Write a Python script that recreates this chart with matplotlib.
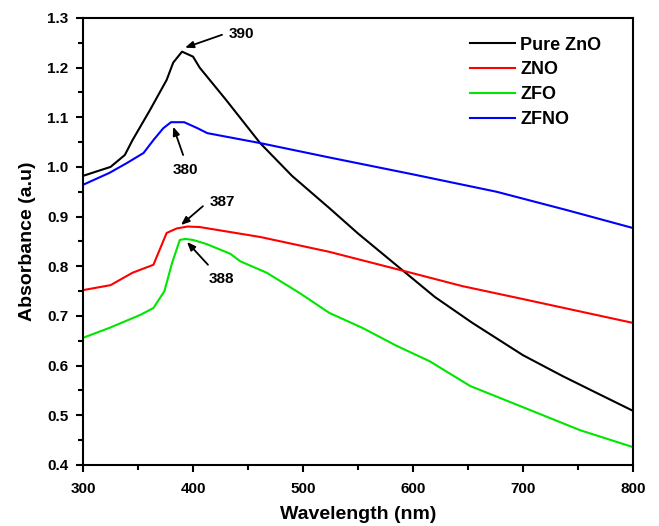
import matplotlib
matplotlib.use("Agg")
import matplotlib.pyplot as plt
from matplotlib.ticker import MultipleLocator

plt.rcParams['font.family'] = ['Liberation Sans', 'DejaVu Sans']
plt.rcParams['font.weight'] = 'bold'

# Pure ZnO (black)
zno_pure_x = [300, 325, 338, 345, 361, 376, 382, 390, 400, 406, 430, 461, 490, 524, 550, 591, 620, 654, 700, 736, 767, 800]
zno_pure_y = [0.982, 1.000, 1.024, 1.054, 1.115, 1.175, 1.210, 1.232, 1.222, 1.200, 1.135, 1.048, 0.982, 0.917, 0.866, 0.791, 0.738, 0.686, 0.621, 0.579, 0.545, 0.509]

# ZNO (red)
zno_x = [300, 325, 345, 364, 370, 376, 385, 395, 406, 461, 524, 591, 645, 700, 800]
zno_y = [0.752, 0.762, 0.787, 0.803, 0.835, 0.867, 0.876, 0.880, 0.879, 0.859, 0.829, 0.791, 0.760, 0.734, 0.686]

# ZFO (green)
zfo_x = [300, 324, 352, 364, 374, 381, 388, 393, 400, 412, 434, 443, 467, 497, 524, 554, 585, 615, 652, 706, 752, 800]
zfo_y = [0.656, 0.676, 0.702, 0.716, 0.750, 0.807, 0.853, 0.855, 0.853, 0.845, 0.825, 0.810, 0.787, 0.746, 0.706, 0.676, 0.640, 0.609, 0.559, 0.511, 0.470, 0.436]

# ZFNO (blue)
zfno_x = [300, 324, 340, 355, 364, 373, 380, 392, 400, 404, 413, 461, 524, 600, 676, 740, 800]
zfno_y = [0.964, 0.988, 1.008, 1.028, 1.054, 1.078, 1.090, 1.090, 1.082, 1.078, 1.068, 1.048, 1.019, 0.985, 0.950, 0.913, 0.877]

labels = ['Pure ZnO', 'ZNO', 'ZFO', 'ZFNO']
colors = ['black', '#ff0000', '#00e600', '#0000ff']

# annotations: text, text pos, arrow tail, arrow head
ann_text = ['390', '380', '387', '388']
ann_text_xy = [(443.6, 1.268), (392.7, 0.994), (427, 0.929), (426, 0.775)]
ann_tail_xy = [(426.4, 1.266), (391, 1.024), (409, 0.921), (413.6, 0.803)]
ann_head_xy = [(392.7, 1.240), (382, 1.081), (389, 0.883), (394.5, 0.849)]

fig = plt.figure(figsize=(6.59, 5.26), dpi=100)
ax = fig.add_axes([0.126, 0.116, 0.8345, 0.850])

for xs, ys, lab, c in zip([zno_pure_x, zno_x, zfo_x, zfno_x],
                          [zno_pure_y, zno_y, zfo_y, zfno_y], labels, colors):
    ax.plot(xs, ys, color=c, lw=1.5, label=lab)

for t, txy, tail, head in zip(ann_text, ann_text_xy, ann_tail_xy, ann_head_xy):
    ax.annotate('', xy=head, xytext=tail,
                arrowprops=dict(arrowstyle='-|>,head_length=0.5,head_width=0.2',
                                color='black', lw=1.3, shrinkA=0, shrinkB=0))
    ax.text(txy[0], txy[1], t, ha='center', va='center', fontsize=11, fontweight='bold')

ax.set_xlim(300, 800)
ax.set_ylim(0.4, 1.3)
ax.xaxis.set_major_locator(MultipleLocator(100))
ax.xaxis.set_minor_locator(MultipleLocator(50))
ax.yaxis.set_major_locator(MultipleLocator(0.1))
ax.yaxis.set_minor_locator(MultipleLocator(0.05))
ax.tick_params(which='both', direction='out', top=False, right=False, width=1.5, labelsize=11)
ax.tick_params(which='major', length=5)
ax.tick_params(which='minor', length=3.5)
ax.tick_params(axis='x', which='major', pad=7.5)
ax.tick_params(axis='y', which='major', pad=5.5)
ax.set_yticklabels([f'{v:.1f}' for v in ax.get_yticks()])
for s in ax.spines.values():
    s.set_linewidth(1.5)

ax.set_xlabel('Wavelength (nm)', fontsize=14, fontweight='bold', labelpad=7)
ax.set_ylabel('Absorbance (a.u)', fontsize=14, fontweight='bold', labelpad=8)

leg = ax.legend(loc='upper left', bbox_to_anchor=(0.703, 0.958), frameon=False,
                fontsize=13, handlelength=2.5, handletextpad=0.3,
                labelspacing=0.43, borderpad=0, borderaxespad=0)
for line in leg.get_lines():
    line.set_linewidth(1.5)

fig.savefig('out.png', dpi=100)
